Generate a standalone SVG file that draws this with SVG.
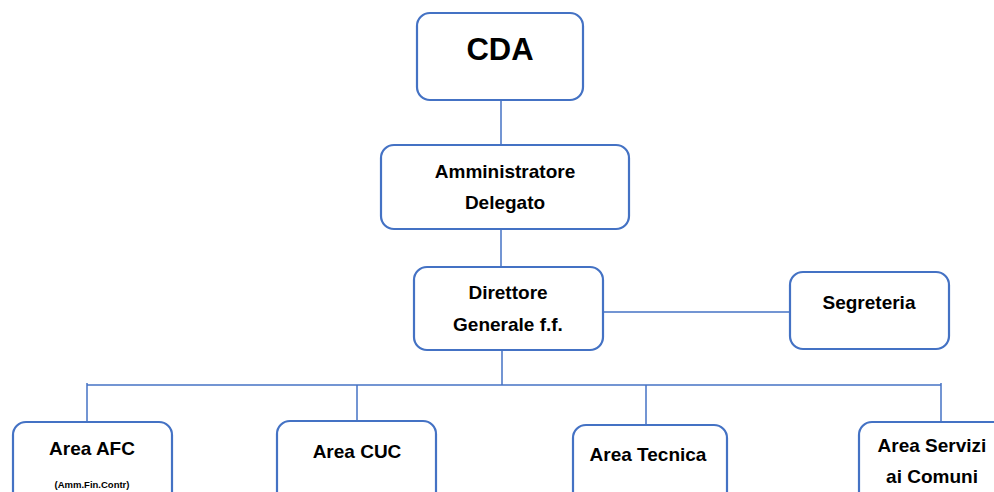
<svg xmlns="http://www.w3.org/2000/svg" width="994" height="492" viewBox="0 0 994 492">
<style>
.box{fill:#ffffff;stroke:#4472C4;stroke-width:2.2}
.ln{fill:none;stroke:#4472C4;stroke-width:1.5}
text{font-family:"Liberation Sans",Arial,sans-serif;font-weight:bold;fill:#000000;text-anchor:middle}
.t{font-size:19px}
.big{font-size:31px}
.small{font-size:9.5px}
</style>
<rect width="994" height="492" fill="#ffffff"/>
<g id="connectors">
<line class="ln" x1="501" y1="100" x2="501" y2="145"/>
<line class="ln" x1="501" y1="229" x2="501" y2="267"/>
<line class="ln" x1="603" y1="312" x2="790" y2="312"/>
<line class="ln" x1="502" y1="350" x2="502" y2="385"/>
<line class="ln" x1="87" y1="385" x2="941" y2="385"/>
<line class="ln" x1="87" y1="383" x2="87" y2="422"/>
<line class="ln" x1="357" y1="385" x2="357" y2="421"/>
<line class="ln" x1="646" y1="385" x2="646" y2="425"/>
<line class="ln" x1="941" y1="383" x2="941" y2="422"/>
</g>
<g id="cda">
<rect class="box" x="417" y="13" width="166" height="87" rx="13"/>
<text class="big" x="500" y="60">CDA</text>
</g>
<g id="amministratore">
<rect class="box" x="381" y="145" width="248" height="84" rx="13"/>
<text class="t" x="505" y="178">Amministratore</text>
<text class="t" x="505" y="209">Delegato</text>
</g>
<g id="direttore">
<rect class="box" x="414" y="267" width="189" height="83" rx="13"/>
<text class="t" x="508" y="299">Direttore</text>
<text class="t" x="508" y="331">Generale f.f.</text>
</g>
<g id="segreteria">
<rect class="box" x="790" y="272" width="159" height="77" rx="13"/>
<text class="t" x="869" y="309">Segreteria</text>
</g>
<g id="area-afc">
<rect class="box" x="13" y="422" width="159" height="90" rx="13"/>
<text class="t" x="92" y="455">Area AFC</text>
<text class="small" x="92" y="488">(Amm.Fin.Contr)</text>
</g>
<g id="area-cuc">
<rect class="box" x="277" y="421" width="159" height="90" rx="13"/>
<text class="t" x="357" y="458">Area CUC</text>
</g>
<g id="area-tecnica">
<rect class="box" x="573" y="425" width="154" height="90" rx="13"/>
<text class="t" x="648" y="461">Area Tecnica</text>
</g>
<g id="area-servizi">
<rect class="box" x="859" y="422" width="150" height="90" rx="13"/>
<text class="t" x="932" y="452">Area Servizi</text>
<text class="t" x="932" y="483">ai Comuni</text>
</g>
</svg>
